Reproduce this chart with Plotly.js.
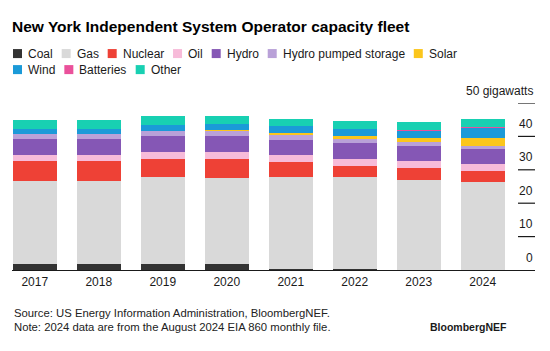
<!DOCTYPE html>
<html><head><meta charset="utf-8">
<script src="https://cdn.plot.ly/plotly-3.0.1.min.js"></script>
<style>html,body{margin:0;padding:0;background:#fff}#chart{width:550px;height:351px}</style>
</head><body><div id="chart"></div>
<script>
// ---- data (GW) ----
const years = ['2017','2018','2019','2020','2021','2022','2023','2024'];
const seriesNames = ['Coal','Gas','Nuclear','Oil','Hydro','Hydro pumped storage','Solar','Wind','Batteries','Other'];
const coal      = [1.7, 1.7, 1.7, 1.7, 0.3, 0.3, 0.0, 0.0];
const gas       = [25.0, 25.0, 26.0, 25.9, 27.6, 27.4, 27.0, 26.3];
const nuclear   = [5.8, 5.8, 5.6, 5.7, 4.4, 3.5, 3.5, 3.3];
const oil       = [2.0, 2.0, 2.0, 2.0, 2.0, 2.0, 2.0, 2.1];
const hydro     = [4.7, 4.7, 4.7, 4.7, 4.5, 4.8, 4.7, 4.5];
const pumped    = [1.5, 1.5, 1.7, 1.6, 1.5, 1.2, 1.2, 0.9];
const solar     = [0.0, 0.0, 0.0, 0.4, 0.7, 0.8, 1.1, 2.3];
const wind      = [1.6, 1.6, 1.8, 1.7, 2.0, 2.2, 2.2, 3.1];
const batteries = [0.0, 0.0, 0.0, 0.0, 0.0, 0.0, 0.1, 0.2];
const other     = [2.5, 2.5, 2.5, 2.5, 2.3, 2.3, 2.4, 2.4];
const yTickVals   = [0, 10, 20, 30, 40, 50];
const yTickLabels = ['0', '10', '20', '30', '40', '50 gigawatts'];

// ---- styles ----
const values = [coal, gas, nuclear, oil, hydro, pumped, solar, wind, batteries, other];
const colors = ['#333333','#d9d9d9','#ee4136','#f7bbd9','#8557b5','#b9a1d8','#fbc61c','#1b9ad8','#ea519b','#18d0b2'];
const FONT = "'Liberation Sans', Arial, Helvetica, sans-serif";
const TXT = '#1a1a1a';
const L = 12, R = 535, T = 103.33, B = 270, W = 550, H = 351;
const xp = px => (px - L) / (R - L);
const yp = py => (B - py) / (B - T);

const traces = seriesNames.map((n, i) => ({
  type: 'bar', name: n, x: years, y: values[i],
  marker: {color: colors[i], line: {width: 0}},
  showlegend: false, hoverinfo: 'skip'
}));

const shapes = [];
const annotations = [];

// y ticks (short marks on the right, labels above them)
yTickVals.forEach((v, i) => {
  if (v !== 0) shapes.push({type: 'line', xref: 'paper', yref: 'y', x0: xp(518), x1: 1, y0: v, y1: v,
    line: {color: TXT, width: 1.2}});
  annotations.push({text: yTickLabels[i], xref: 'paper', yref: 'y', x: 1, y: v, xanchor: 'right',
    yanchor: 'middle', yshift: 12.5, showarrow: false, font: {family: FONT, size: 12, color: TXT}});
});

// custom legend
const ctx = document.createElement('canvas').getContext('2d');
ctx.font = "12px 'Liberation Sans'";
const legendRows = [[0,1,2,3,4,5,6],[7,8,9]];
const rowY = [54, 70];
legendRows.forEach((row, r) => {
  let x = 13;
  row.forEach(i => {
    const cy = rowY[r];
    shapes.push({type: 'rect', xref: 'paper', yref: 'paper', x0: xp(x), x1: xp(x + 9),
      y0: yp(cy + 4.5), y1: yp(cy - 4.5), line: {width: 0}, fillcolor: colors[i]});
    annotations.push({text: seriesNames[i], xref: 'paper', yref: 'paper', x: xp(x + 13), y: yp(cy),
      xanchor: 'left', yanchor: 'middle', showarrow: false, font: {family: FONT, size: 12, color: TXT}});
    x += 13 + ctx.measureText(seriesNames[i]).width + 11;
  });
});

// footer
annotations.push({text: 'Source: US Energy Information Administration, BloombergNEF.', xref: 'paper', yref: 'paper',
  x: xp(12), y: yp(313), xanchor: 'left', yanchor: 'middle', showarrow: false, font: {family: FONT, size: 11.3, color: '#222'}});
annotations.push({text: 'Note: 2024 data are from the August 2024 EIA 860 monthly file.', xref: 'paper', yref: 'paper',
  x: xp(12), y: yp(327), xanchor: 'left', yanchor: 'middle', showarrow: false, font: {family: FONT, size: 11.3, color: '#222'}});
annotations.push({text: '<b>BloombergNEF</b>', xref: 'paper', yref: 'paper',
  x: xp(509), y: yp(327), xanchor: 'right', yanchor: 'middle', showarrow: false, font: {family: FONT, size: 10.5, color: TXT}});

const layout = {
  width: W, height: H,
  margin: {l: L, r: W - R, t: T, b: H - B, pad: 0},
  paper_bgcolor: '#fff', plot_bgcolor: '#fff',
  barmode: 'stack', bargap: 0.3125,
  title: {text: '<b>New York Independent System Operator capacity fleet</b>', xref: 'container', yref: 'container',
    x: 12 / W, xanchor: 'left', y: 1 - 27 / H, yanchor: 'middle', font: {family: FONT, size: 15.5, color: '#000'}},
  xaxis: {type: 'category', range: [-0.355, 7.817], showline: true, linecolor: TXT, linewidth: 1.2,
    ticks: '', showgrid: false, zeroline: false, tickfont: {family: FONT, size: 12, color: TXT}, fixedrange: true},
  yaxis: {range: [0, 50], showgrid: false, zeroline: false, showticklabels: false, side: 'right', fixedrange: true},
  shapes: shapes, annotations: annotations, showlegend: false
};

Plotly.newPlot('chart', traces, layout, {displayModeBar: false, staticPlot: true});
</script>
</body></html>
